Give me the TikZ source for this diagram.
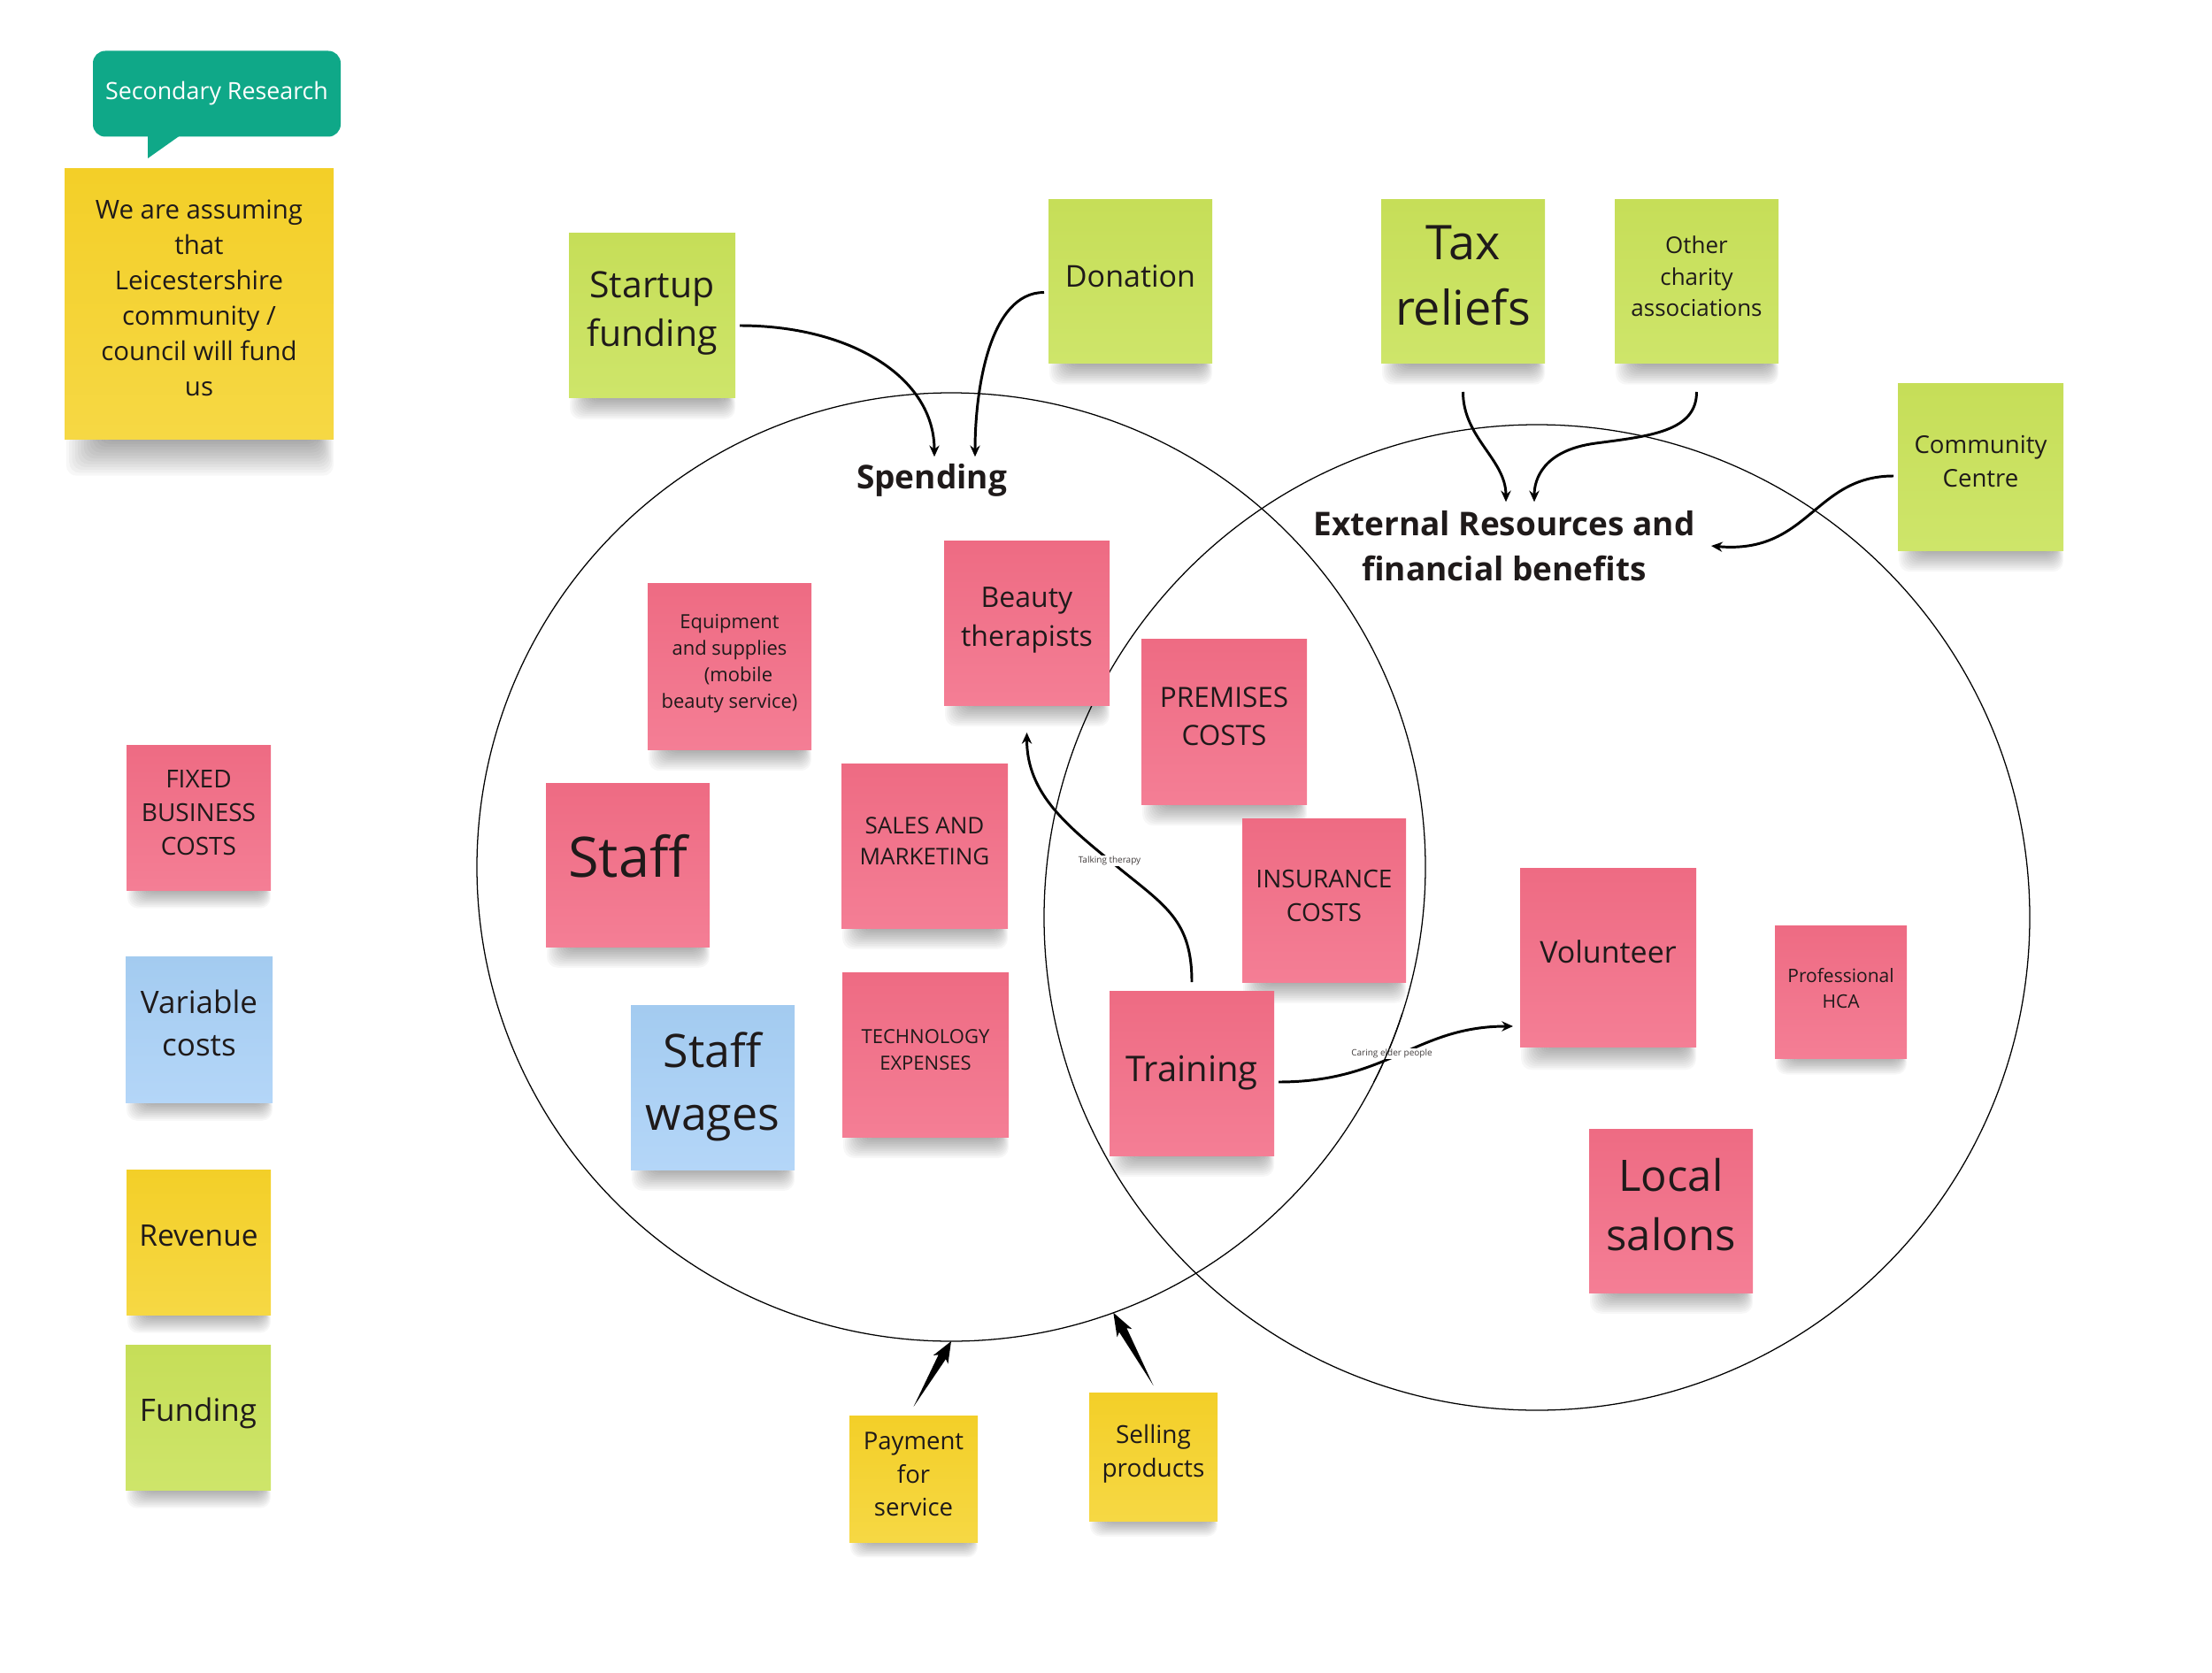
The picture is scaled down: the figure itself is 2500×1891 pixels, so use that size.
\documentclass[tikz,border=0pt]{standalone}
\usepackage{fontspec}
\setmainfont{Open Sans}
\usetikzlibrary{calc,arrows.meta}
\definecolor{pinkT}{HTML}{EE6B83}\definecolor{pinkB}{HTML}{F47E95}
\definecolor{yelT}{HTML}{F3CF28}\definecolor{yelB}{HTML}{F6D844}
\definecolor{greT}{HTML}{C6DE58}\definecolor{greB}{HTML}{CEE56A}
\definecolor{bluT}{HTML}{A3CBF0}\definecolor{bluB}{HTML}{B4D6F8}
\definecolor{bubblegreen}{HTML}{0FA888}
\definecolor{ink}{HTML}{1F1A1A}
\newcommand\fs[1]{\pgfmathsetmacro\fsa{#1*0.7113}\pgfmathsetmacro\fsb{#1*0.7113*1.36}\fontsize{\fsa pt}{\fsb pt}\selectfont}
% \note{name}{x1}{y1}{x2}{y2}{colour}{font px}{text dy}{text}
\newcommand\note[9]{%
  \pgfmathsetmacro\nh{#5-#3}\pgfmathsetmacro\nw{#4-#2}%
  \pgfmathsetmacro\nd{\nh*0.15}%
  \foreach \i in {1,...,14}{%
    \pgfmathsetmacro\ny{#5-4+\nd*\i/14}%
    \pgfmathsetmacro\nl{#2+\nw*0.16-\nw*0.011*\i}%
    \pgfmathsetmacro\nr{#4-\nw*0.07+\nw*0.005*\i}%
    \fill[black,opacity=.032,rounded corners=0.3cm] (\nl,#5-8) rectangle (\nr,\ny);
  }%
  \node[notebox,top color=#6T,bottom color=#6B,minimum width={(#4-#2)*0.025cm},minimum height={(#5-#3)*0.025cm}] (#1) at ({(#2+#4)/2},{(#3+#5)/2}) {};
  \node[notetext,font=\fs{#7}] (#1t) at ({(#2+#4)/2},{(#3+#5)/2+#8}) {#9};
}
% tapered connector
\newcommand\wedgearrow[3]{%
  \coordinate (#3a) at ($(#1)!0.72!(#2)$);
  \coordinate (#3b) at ($(#1)!0.76!(#2)$);
  \fill[black] (#1) -- ($(#3b)!0.12cm!90:(#2)$) -- ($(#3a)!0.24cm!90:(#2)$) -- (#2) -- ($(#3a)!0.24cm!-90:(#2)$) -- ($(#3b)!0.12cm!-90:(#2)$) -- cycle;
}
\tikzset{
  notebox/.style={rectangle,inner sep=0pt,outer sep=0pt},
  notetext/.style={align=center,inner sep=0pt,text=ink},
  venn/.style={circle,draw=black,line width=0.9pt,inner sep=0pt,outer sep=0pt},
  flow/.style={draw=black,line width=2.1pt,-{Stealth[length=9pt,width=8pt]}},
  tinylabel/.style={fill=white,inner sep=1pt,text=ink!85,font=\fs{10}},
  heading/.style={font=\bfseries\fs{37},align=center,text=ink,inner sep=0pt},
}
\begin{document}
\begin{tikzpicture}[x=0.025cm,y=-0.025cm]
\useasboundingbox (0,0) rectangle (2500,1891);
\node[venn,minimum size={1072*0.025cm}] (spendc) at (1075,980) {};
\node[venn,minimum size={1114*0.025cm}] (extc) at (1737,1037) {};

\node[rectangle,rounded corners=0.35cm,fill=bubblegreen,text=white,font=\fs{26.8},minimum width={280*0.025cm},minimum height={97*0.025cm},inner sep=0pt] (bubble) at (245,106) {Secondary Research};
\fill[bubblegreen] (167,150) -- (167,179) -- (208,150) -- cycle;

\note{assume}{73}{191}{377}{496}{yel}{29.4}{-7}{We are assuming\\that\\Leicestershire\\community /\\council will fund\\us}
\note{startup}{643}{264}{831}{450}{gre}{41}{-3}{Startup\\funding}
\note{donation}{1185}{226}{1370}{411}{gre}{34}{-6}{Donation}
\note{tax}{1561}{226}{1746}{411}{gre}{54}{-7}{Tax\\reliefs}
\note{other}{1825}{226}{2010}{411}{gre}{26}{-6}{Other\\charity\\associations}
\note{community}{2145}{434}{2332}{622}{gre}{27.6}{-6.5}{Community\\Centre}
\note{beauty}{1067}{611}{1254}{797}{pink}{32}{-3}{Beauty\\therapists}
\note{equip}{732}{659}{917}{847}{pink}{22}{-3}{Equipment\\and supplies\\\hspace*{0.5cm}(mobile\\beauty service)}
\note{staff}{617}{885}{802}{1070}{pink}{63}{-10}{Staff}
\note{sales}{951}{863}{1139}{1049}{pink}{26}{-5}{SALES AND\\MARKETING}
\note{wages}{713}{1136}{898}{1322}{blu}{52}{-1}{Staff\\wages}
\note{tech}{952}{1099}{1140}{1285}{pink}{22}{-5.5}{TECHNOLOGY\\EXPENSES}
\note{premises}{1290}{722}{1477}{909}{pink}{31.5}{-6}{PREMISES\\COSTS}
\note{insurance}{1404}{925}{1589}{1110}{pink}{28}{-5}{INSURANCE\\COSTS}
\note{training}{1254}{1120}{1440}{1306}{pink}{40}{0}{Training}
\note{volunteer}{1718}{981}{1917}{1183}{pink}{34}{-6}{Volunteer}
\note{hca}{2006}{1046}{2155}{1196}{pink}{21}{-4}{Professional\\HCA}
\note{local}{1796}{1276}{1981}{1461}{pink}{49}{-7}{Local\\salons}
\note{pay}{960}{1600}{1105}{1743}{yel}{27.5}{-5}{Payment\\for\\service}
\note{sell}{1231}{1574}{1376}{1719}{yel}{28}{-3}{Selling\\products}
\note{fixed}{143}{842}{306}{1006}{pink}{28}{-5.5}{FIXED\\BUSINESS\\COSTS}
\note{variable}{142}{1081}{308}{1246}{blu}{35}{-7}{Variable\\costs}
\note{revenue}{143}{1322}{306}{1486}{yel}{33.5}{-7}{Revenue}
\note{funding}{142}{1520}{306}{1684}{gre}{35}{-5}{Funding}

\node[heading] (spending) at (1053,543) {Spending};
\node[heading] (external) at (1700,617) {External Resources and\\financial benefits};

\coordinate (othermid) at ($(other.south)+(-114,90)$);
\coordinate (trainmid) at ($(training.north)+(-85,-141)$);

\draw[flow] ($(startup.east)+(5,11)$) .. controls +(125,0) and +(0,-90) .. ($(spending.north)+(3,-8)$);
\draw[flow] ($(donation.west)+(-5,12)$) .. controls +(-62,0) and +(0,-75) .. ($(spending.north)+(49,-8)$);
\draw[flow] ($(tax.south)+(0,32)$) .. controls +(0,52) and +(0,-48) .. ($(external.north)+(2,-10)$);
\draw[flow] ($(other.south)+(0,32)$) .. controls +(0,45) and +(60,-8) .. (othermid) .. controls +(-60,8) and +(0,-25) .. ($(external.north)+(34,-10)$);
\draw[flow] ($(community.west)+(-5,10)$) .. controls +(-90,0) and +(110,10) .. ($(external.east)+(18,0)$);
\draw[flow] ($(training.north)+(0,-10)$) .. controls +(0,-70) and +(55,45) .. (trainmid) .. controls +(-55,-45) and +(0,70) .. ($(beauty.south)+(0,31)$);
\draw[flow] ($(training.east)+(5,10)$) .. controls +(125,0) and +(-110,0) .. ($(volunteer.west)+(-8,78)$);

\node[tinylabel] (lab1) at (1254,973) {Talking therapy};
\node[tinylabel] (lab2) at (1573,1191) {Caring elder people};
\draw[black,line width=0.9pt] (spendc.-27) arc[start angle=-27,end angle=-18,radius=13.4cm];

\wedgearrow{$(pay.north)+(0,-10)$}{spendc.-90}{wp}
\wedgearrow{$(sell.north)+(0,-8)$}{spendc.-70}{ws}
\end{tikzpicture}
\end{document}
